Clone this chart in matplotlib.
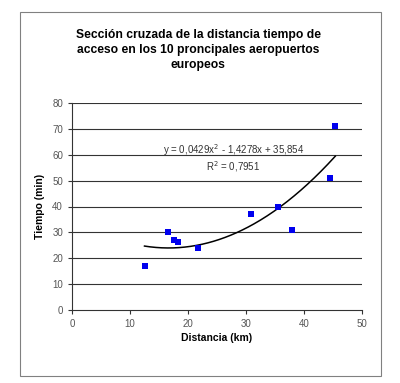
import matplotlib
matplotlib.use("Agg")
import matplotlib.pyplot as plt
import numpy as np
from matplotlib.patches import Rectangle

distancia = [12.5, 16.6, 17.6, 18.2, 21.7, 30.9, 35.6, 37.9, 44.5, 45.4]
tiempo = [17.0, 30.0, 27.2, 26.2, 24.1, 37.1, 40.0, 30.9, 51.0, 71.2]
coef = [0.0429, -1.4278, 35.854]
eq_text = "y = 0,0429x$^2$ - 1,4278x + 35,854"
r2_text = "R$^2$ = 0,7951"
title = "Sección cruzada de la distancia tiempo de\nacceso en los 10 proncipales aeropuertos\neuropeos"
xticks = [0, 10, 20, 30, 40, 50]
yticks = [0, 10, 20, 30, 40, 50, 60, 70, 80]

plt.rcParams['font.family'] = ['Liberation Sans', 'DejaVu Sans']

fig = plt.figure(figsize=(4.0, 3.83), dpi=100)
fig.patch.set_facecolor('white')
fig.patches.append(Rectangle((20/400, 1-376/383), 361/400, 364/383, transform=fig.transFigure,
                             fill=False, edgecolor='#808080', linewidth=0.8))

ax = fig.add_axes([72/400, 1-310/383, 290/400, 207/383])
ax.set_xlim(0, 50)
ax.set_ylim(0, 80)
ax.set_xticks(xticks)
ax.set_yticks(yticks)
for y in yticks[1:]:
    ax.axhline(y, color='#333333', linewidth=0.8, zorder=1)
for s in ['top', 'right']:
    ax.spines[s].set_visible(False)
for s in ['left', 'bottom']:
    ax.spines[s].set_color('#333333')
    ax.spines[s].set_linewidth(0.8)
ax.tick_params(direction='out', length=3, width=0.8, labelsize=7, labelcolor='#555555', color='#333333')

ax.scatter(distancia, tiempo, marker='s', s=16, color='#0000EE', zorder=3, linewidths=0)
xs = np.linspace(min(distancia), max(distancia), 200)
ax.plot(xs, np.polyval(coef, xs), color='black', linewidth=1.1, zorder=2)

ax.text(27.8, 61.7, eq_text, ha='center', va='center', fontsize=7, color='#333333')
ax.text(27.8, 55.6, r2_text, ha='center', va='center', fontsize=7, color='#333333')

ax.set_xlabel("Distancia (km)", fontsize=7.5, fontweight='bold', labelpad=3)
ax.set_ylabel("Tiempo (min)", fontsize=7.5, fontweight='bold', labelpad=5)

fig.text(198/400, 1-50/383, title, ha='center', va='center', fontsize=8.7, fontweight='bold',
         linespacing=1.3)

fig.savefig("out.png", dpi=100, facecolor='white')
